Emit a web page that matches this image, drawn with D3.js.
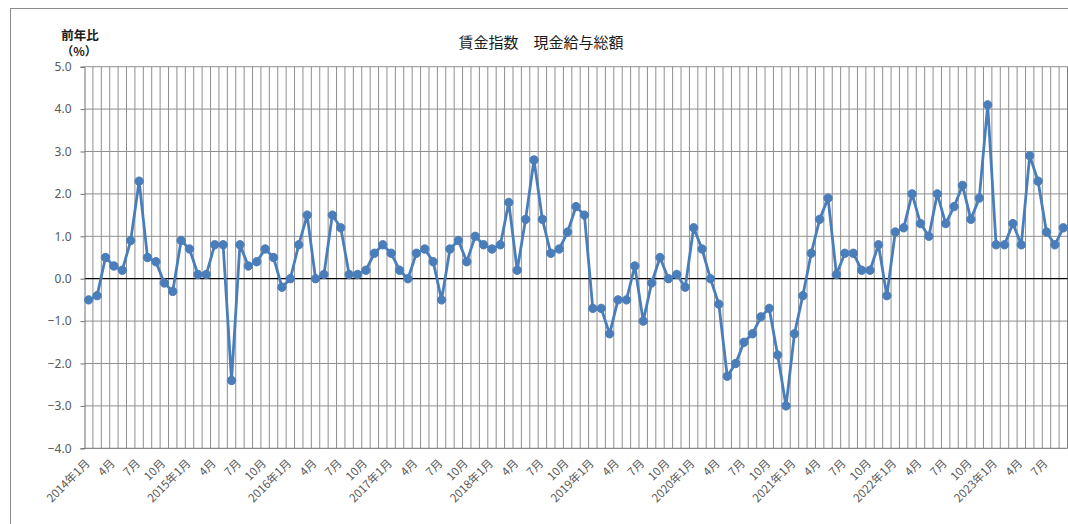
<!DOCTYPE html>
<html><head><meta charset="utf-8">
<script src="https://cdn.jsdelivr.net/npm/d3@7"></script>
<style>
html,body{margin:0;padding:0;background:#fff;}
svg{display:block;}
text{font-family:"Noto Sans CJK JP","Noto Sans",sans-serif;}
</style></head>
<body><svg id="c" width="1068" height="524"></svg>
<script>
const title = "賃金指数　現金給与総額";
const yTitle1 = "前年比";
const yTitle2 = "（%）";
const years = [2014,2015,2016,2017,2018,2019,2020,2021,2022,2023];
const lastMonth2023 = 9;
const labelMonths = [1,4,7,10];
const yTicks = [5,4,3,2,1,0,-1,-2,-3,-4];
const values = [
  -0.5,-0.4,0.5,0.3,0.2,0.9,2.3,0.5,0.4,-0.1,-0.3,0.9,
  0.7,0.1,0.1,0.8,0.8,-2.4,0.8,0.3,0.4,0.7,0.5,-0.2,
  0.0,0.8,1.5,0.0,0.1,1.5,1.2,0.1,0.1,0.2,0.6,0.8,
  0.6,0.2,0.0,0.6,0.7,0.4,-0.5,0.7,0.9,0.4,1.0,0.8,
  0.7,0.8,1.8,0.2,1.4,2.8,1.4,0.6,0.7,1.1,1.7,1.5,
  -0.7,-0.7,-1.3,-0.5,-0.5,0.3,-1.0,-0.1,0.5,0.0,0.1,-0.2,
  1.2,0.7,0.0,-0.6,-2.3,-2.0,-1.5,-1.3,-0.9,-0.7,-1.8,-3.0,
  -1.3,-0.4,0.6,1.4,1.9,0.1,0.6,0.6,0.2,0.2,0.8,-0.4,
  1.1,1.2,2.0,1.3,1.0,2.0,1.3,1.7,2.2,1.4,1.9,4.1,
  0.8,0.8,1.3,0.8,2.9,2.3,1.1,0.8,1.2
];

// build categories
const categories = [];
years.forEach(y => {
  const n = (y === 2023) ? lastMonth2023 : 12;
  for (let m = 1; m <= n; m++) categories.push({y, m, key: y + "-" + m});
});
const data = categories.map((c, i) => ({...c, v: values[i]}));

const svg = d3.select("#c");
const L = 84.5, R = 1067.5, T = 66.7, B = 448.3;

// chart-area frame
svg.append("rect").attr("x", 10.5).attr("y", 8.5).attr("width", 1100).attr("height", 600)
  .attr("fill", "none").attr("stroke", "#8c8c8c").attr("stroke-width", 1);

const x = d3.scaleBand().domain(categories.map(c => c.key)).range([L, R]).paddingInner(0).paddingOuter(0);
const y = d3.scaleLinear().domain([-4, 5]).range([B, T]);

// vertical gridlines at category boundaries
const g = svg.append("g");
g.selectAll("line.v").data(categories.slice(1)).join("line")
  .attr("x1", d => x(d.key)).attr("x2", d => x(d.key))
  .attr("y1", T).attr("y2", B)
  .attr("stroke", "#8f8f8f").attr("stroke-width", 1);

// horizontal gridlines
g.selectAll("line.h").data(yTicks.filter(t => t !== 0 && t !== -4)).join("line")
  .attr("x1", L).attr("x2", R)
  .attr("y1", d => y(d)).attr("y2", d => y(d))
  .attr("stroke", "#8f8f8f").attr("stroke-width", 1);

// right edge
svg.append("line").attr("x1", R).attr("x2", R).attr("y1", T).attr("y2", B)
  .attr("stroke", "#7f7f7f");
// bottom line
svg.append("line").attr("x1", L).attr("x2", R).attr("y1", B).attr("y2", B)
  .attr("stroke", "#6f6f6f");
// zero line
svg.append("line").attr("x1", L).attr("x2", R).attr("y1", y(0)).attr("y2", y(0))
  .attr("stroke", "#000").attr("stroke-width", 1.2);

// y axis
const yAxis = d3.axisLeft(y).tickValues(yTicks).tickSize(4).tickPadding(9)
  .tickFormat(d3.format(".1f"));
const ya = svg.append("g").attr("transform", `translate(${L},0)`).call(yAxis);
ya.select(".domain").attr("stroke", "#6f6f6f");
ya.selectAll(".tick line").attr("stroke", "#6f6f6f");
ya.selectAll(".tick text").attr("fill", "#595959").attr("font-size", 12)
  .style("font-family", "'Noto Sans', sans-serif");

// x axis labels
const xa = svg.append("g");
const lab = data.filter(d => labelMonths.includes(d.m));
xa.selectAll("text").data(lab).join("text")
  .attr("transform", d => `translate(${x(d.key) + x.bandwidth()/2 - 1},${B + 13}) rotate(-45)`)
  .attr("text-anchor", "end")
  .attr("dy", "0.35em")
  .attr("fill", "#595959").attr("font-size", 11.5)
  .text(d => d.m === 1 ? `${d.y}年${d.m}月` : `${d.m}月`);

// line
const cx = d => x(d.key) + x.bandwidth()/2;
const line = d3.line().x(cx).y(d => y(d.v));
svg.append("path").datum(data).attr("d", line)
  .attr("fill", "none").attr("stroke", "#4a7ebb").attr("stroke-width", 2.8)
  .attr("stroke-linejoin", "round");
svg.append("g").selectAll("circle").data(data).join("circle")
  .attr("cx", cx).attr("cy", d => y(d.v)).attr("r", 4.2)
  .attr("fill", "#4a7ebb").attr("stroke", "#4a7ebb").attr("stroke-width", 1);

// titles
svg.append("text").attr("x", 541).attr("y", 41).attr("text-anchor", "middle")
  .attr("dominant-baseline", "central").attr("font-size", 15).attr("fill", "#1a1a1a")
  .text(title);
svg.append("text").attr("x", 80).attr("y", 34).attr("text-anchor", "middle")
  .attr("dominant-baseline", "central").attr("font-size", 12.5).attr("font-weight", "bold")
  .attr("fill", "#1a1a1a").text(yTitle1);
svg.append("text").attr("x", 79).attr("y", 50).attr("text-anchor", "middle")
  .attr("dominant-baseline", "central").attr("font-size", 12).attr("font-weight", "bold")
  .attr("fill", "#1a1a1a").text(yTitle2);
</script></body></html>
